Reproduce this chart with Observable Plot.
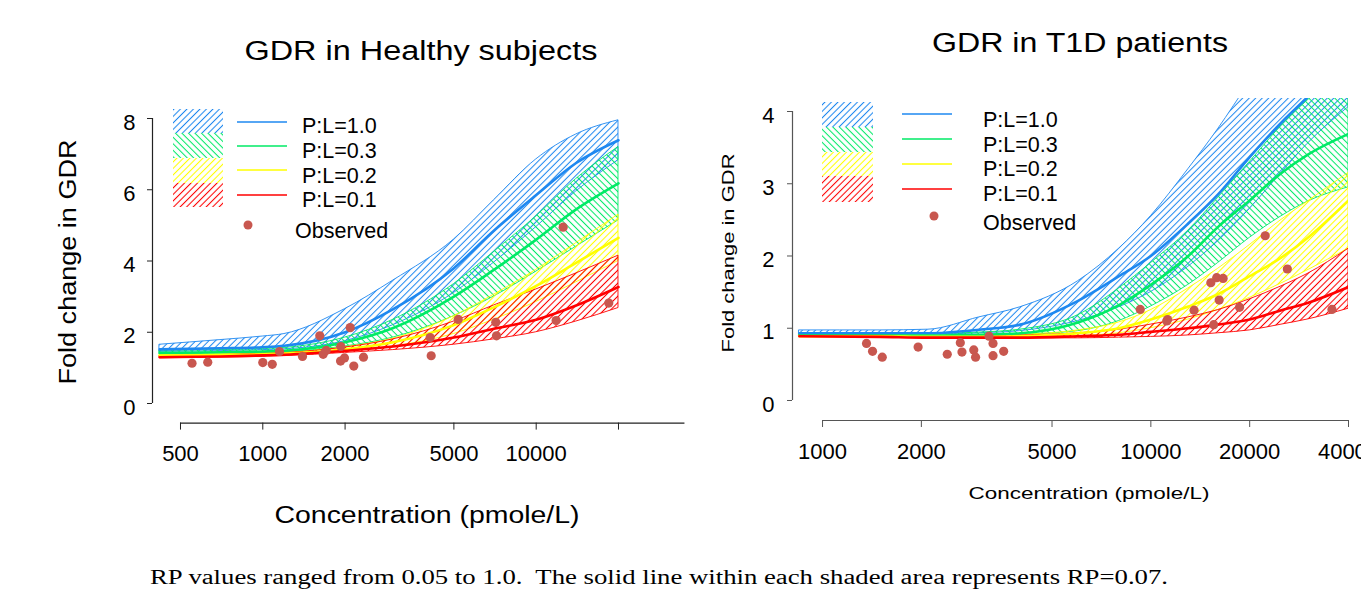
<!DOCTYPE html>
<html>
<head>
<meta charset="utf-8">
<script src="https://cdn.jsdelivr.net/npm/d3@7"></script>
<script src="https://cdn.jsdelivr.net/npm/@observablehq/plot@0.6"></script>
<style>
  html, body { margin: 0; padding: 0; background: #fff; }
  body { width: 1361px; height: 591px; overflow: hidden; position: relative; font-family: 'Liberation Sans', Arial, sans-serif; }
  #left, #right { position: absolute; top: 0; width: 700px; height: 480px; }
  #left { left: 0; }
  #right { left: 700px; }
  #left svg, #right svg { max-width: none !important; }
  #overlay { position: absolute; left: 0; top: 0; width: 1361px; height: 591px; pointer-events: none; }
</style>
</head>
<body>
<svg id="overlay" width="1361" height="591"></svg>
<div id="left"></div>
<div id="right"></div>
<script>
// ---------- labels ----------
const levels = ["P:L=1.0", "P:L=0.3", "P:L=0.2", "P:L=0.1"];
const colors = ["#1e88f0", "#00ea66", "#ffff00", "#ff0000"];
const dotColor = "#c8574f";
const titleLeft = "GDR in Healthy subjects";
const titleRight = "GDR in T1D patients";
const yLabel = "Fold change in GDR";
const xLabel = "Concentration (pmole/L)";
const obsLabel = "Observed";
const caption = "RP values ranged from 0.05 to 1.0.  The solid line within each shaded area represents RP=0.07.";
const FONT = "'Liberation Sans', Arial, sans-serif";
const SERIF = "'Liberation Serif', 'Times New Roman', serif";

// ---------- Healthy subjects ----------
const hConc    = [420, 700, 1000, 1200, 2000, 3000, 5000, 7000, 10000, 14000, 20000];
const hBlueHi  = [1.65, 1.78, 1.88, 1.95, 2.65, 3.45, 4.6, 5.7, 6.85, 7.55, 7.95];
const hBlueMid = [1.52, 1.55, 1.58, 1.62, 2.0, 2.65, 3.8, 4.85, 5.85, 6.75, 7.39];
const hBlueLo  = [1.45, 1.47, 1.5, 1.52, 1.75, 2.2, 3.1, 3.95, 4.95, 5.95, 6.83];
const hGreenHi  = [1.48, 1.5, 1.53, 1.56, 1.85, 2.35, 3.35, 4.25, 5.25, 6.3, 7.2];
const hGreenMid = [1.42, 1.44, 1.46, 1.48, 1.72, 2.12, 3.0, 3.75, 4.6, 5.45, 6.18];
const hGreenLo  = [1.38, 1.4, 1.42, 1.44, 1.6, 1.85, 2.45, 3.0, 3.7, 4.4, 5.14];
const hYellowHi  = [1.36, 1.38, 1.4, 1.42, 1.58, 1.82, 2.45, 3.05, 3.75, 4.5, 5.3];
const hYellowMid = [1.34, 1.36, 1.38, 1.4, 1.52, 1.72, 2.2, 2.7, 3.3, 3.95, 4.65];
const hYellowLo  = [1.32, 1.34, 1.36, 1.37, 1.47, 1.6, 1.95, 2.35, 2.85, 3.4, 4.0];
const hRedHi  = [1.33, 1.36, 1.4, 1.42, 1.57, 1.8, 2.3, 2.75, 3.2, 3.65, 4.15];
const hRedMid = [1.3, 1.32, 1.35, 1.37, 1.48, 1.6, 1.85, 2.1, 2.35, 2.75, 3.27];
const hRedLo  = [1.27, 1.29, 1.31, 1.33, 1.42, 1.5, 1.65, 1.8, 2.0, 2.3, 2.68];
const hObsConc = [551, 629, 1000, 1083, 1151, 1397, 1616, 1663, 1705, 1929, 1925, 1990, 2088, 2152, 2335, 4094, 4130, 5185, 7115, 7158, 11830, 12550, 18430];
const hObsGDR  = [1.13, 1.16, 1.15, 1.10, 1.46, 1.32, 1.90, 1.38, 1.49, 1.60, 1.19, 1.28, 2.13, 1.05, 1.30, 1.85, 1.34, 2.36, 2.28, 1.90, 2.33, 4.95, 2.82];
const hXTicks = [500, 1000, 2000, 5000, 10000, 20000];
const hXTickText = ["500", "1000", "2000", "5000", "10000", ""];
const hYTicks = [0, 2, 4, 6, 8];

// ---------- T1D patients ----------
const tConc    = [850, 1500, 2100, 3000, 4000, 6000, 8000, 10000, 13000, 16000, 20000, 25000, 30000, 40000];
const tBlueHi  = [0.97, 0.97, 0.98, 1.15, 1.29, 1.65, 2.1, 2.55, 3.2, 3.75, 4.4, 5.0, 5.5, 6.2];
const tBlueMid = [0.93, 0.93, 0.93, 0.98, 1.05, 1.38, 1.72, 2.0, 2.45, 2.85, 3.37, 3.85, 4.2, 4.8];
const tBlueLo  = [0.91, 0.91, 0.91, 0.93, 0.96, 1.1, 1.29, 1.5, 1.85, 2.2, 2.65, 3.15, 3.55, 4.06];
const tGreenHi  = [0.92, 0.92, 0.92, 0.94, 0.98, 1.18, 1.55, 1.9, 2.35, 2.8, 3.3, 3.8, 4.15, 4.6];
const tGreenMid = [0.9, 0.9, 0.9, 0.91, 0.93, 1.08, 1.32, 1.6, 2.0, 2.4, 2.77, 3.15, 3.4, 3.69];
const tGreenLo  = [0.89, 0.89, 0.89, 0.9, 0.91, 0.96, 1.1, 1.3, 1.6, 1.9, 2.25, 2.55, 2.75, 2.95];
const tYellowHi  = [0.9, 0.9, 0.9, 0.9, 0.91, 0.97, 1.08, 1.25, 1.55, 1.82, 2.15, 2.5, 2.75, 3.15];
const tYellowMid = [0.89, 0.89, 0.88, 0.88, 0.89, 0.93, 1.0, 1.12, 1.3, 1.47, 1.72, 1.98, 2.25, 2.77];
const tYellowLo  = [0.88, 0.88, 0.87, 0.87, 0.87, 0.89, 0.93, 1.0, 1.12, 1.25, 1.42, 1.62, 1.8, 2.1];
const tRedHi  = [0.9, 0.9, 0.89, 0.89, 0.9, 0.93, 0.98, 1.05, 1.15, 1.25, 1.4, 1.58, 1.75, 2.1];
const tRedMid = [0.89, 0.88, 0.87, 0.87, 0.87, 0.89, 0.91, 0.95, 1.0, 1.05, 1.12, 1.25, 1.35, 1.57];
const tRedLo  = [0.88, 0.87, 0.86, 0.86, 0.86, 0.86, 0.87, 0.88, 0.9, 0.93, 0.97, 1.05, 1.12, 1.27];
const tObsConc = [1361, 1420, 1520, 1955, 2398, 2628, 2659, 2888, 2925, 3214, 3306, 3306, 3562, 9283, 11180, 11250, 13540, 15230, 15540, 15870, 16150, 16600, 18630, 22300, 26050, 35620];
const tObsGDR  = [0.79, 0.68, 0.60, 0.74, 0.64, 0.80, 0.67, 0.70, 0.60, 0.89, 0.79, 0.62, 0.68, 1.26, 1.10, 1.12, 1.25, 1.63, 1.05, 1.70, 1.39, 1.69, 1.29, 2.28, 1.82, 1.26];
const tXTicks = [1000, 2000, 5000, 10000, 20000, 40000];
const tXTickText = ["1000", "2000", "5000", "10000", "20000", "40000"];
const tYTicks = [0, 1, 2, 3, 4];

// ---------- helpers ----------
function rows(conc, lo, mid, hi) {
  return conc.map((c, i) => ({conc: c, lo: lo[i], mid: mid[i], hi: hi[i]}));
}
function obsRows(conc, v) { return conc.map((c, i) => ({conc: c, v: v[i]})); }

const hBands = [
  rows(hConc, hBlueLo, hBlueMid, hBlueHi),
  rows(hConc, hGreenLo, hGreenMid, hGreenHi),
  rows(hConc, hYellowLo, hYellowMid, hYellowHi),
  rows(hConc, hRedLo, hRedMid, hRedHi)
];
const tBands = [
  rows(tConc, tBlueLo, tBlueMid, tBlueHi),
  rows(tConc, tGreenLo, tGreenMid, tGreenHi),
  rows(tConc, tYellowLo, tYellowMid, tYellowHi),
  rows(tConc, tRedLo, tRedMid, tRedHi)
];

// ---------- hatch patterns (shared) ----------
const overlay = d3.select("#overlay");
const defs = overlay.append("defs");
const hatchAngles = [45, -45, 45, 45];
colors.forEach((c, k) => {
  const p = defs.append("pattern")
    .attr("id", "hatch" + k)
    .attr("patternUnits", "userSpaceOnUse")
    .attr("width", 4.6).attr("height", 10)
    .attr("patternTransform", `rotate(${hatchAngles[k]})`);
  p.append("line").attr("x1", 2.3).attr("x2", 2.3).attr("y1", 0).attr("y2", 10)
    .attr("stroke", c).attr("stroke-width", 1.05);
});

function panel({bands, obs, xDomain, yDomain, width, height, marginLeft, marginRight, marginTop, marginBottom,
                yAxisAt, xAxisFrom, xAxisTo, yTop, xTicks, xTickText, yTicks, yTickPad, xTickPad, axisColor}) {
  const marks = [];
  bands.forEach((b, k) => marks.push(Plot.areaY(b, {
    x: "conc", y1: "lo", y2: "hi", fill: `url(#hatch${k})`, stroke: colors[k], strokeWidth: 0.9,
    curve: "monotone-x", clip: true
  })));
  bands.forEach((b, k) => marks.push(Plot.line(b, {
    x: "conc", y: "mid", stroke: colors[k], strokeWidth: 2.6, curve: "monotone-x", clip: true
  })));
  marks.push(Plot.dot(obs, {x: "conc", y: "v", r: 4.6, fill: dotColor, stroke: "none"}));
  marks.push(Plot.ruleX([yAxisAt], {y1: 0, y2: yTop, stroke: axisColor, strokeWidth: 1.2}));
  marks.push(Plot.ruleY([yDomain[0]], {x1: xAxisFrom, x2: xAxisTo, stroke: axisColor, strokeWidth: 1.2}));
  // y ticks (marks only) and y tick labels (shifted slightly down, as in the reference)
  marks.push(Plot.axisY({ticks: yTicks, tickSize: 5, label: null, stroke: axisColor, tickFormat: () => ""}));
  marks.push(Plot.axisY({ticks: yTicks, tickSize: 0, tickPadding: 5 + yTickPad, fontSize: 22, label: null,
    fill: "#000", dy: 4, tickFormat: d => String(d)}));
  marks.push(Plot.axisX({ticks: xTicks, tickSize: 7, tickPadding: xTickPad, fontSize: 22, label: null,
    stroke: axisColor, fill: "#000", tickFormat: d => xTickText[xTicks.indexOf(d)]}));
  return Plot.plot({
    width, height, marginLeft, marginRight, marginTop, marginBottom,
    x: {type: "log", domain: xDomain},
    y: {domain: yDomain},
    style: {fontFamily: FONT, background: "transparent", overflow: "visible", color: "#000", maxWidth: "none"},
    marks
  });
}

// Left: 500 -> x=180, 273.4 px/decade; y: 0 -> 403, 35.625 px/unit
const left = panel({
  bands: hBands, obs: obsRows(hObsConc, hObsGDR),
  xDomain: [395, 39500], yDomain: [-0.55, 8.4],
  width: 700, height: 480, marginLeft: 152, marginRight: 1.2, marginTop: 103.75, marginBottom: 57.4,
  yAxisAt: 395, xAxisFrom: 500, xAxisTo: 35000, yTop: 8,
  xTicks: hXTicks, xTickText: hXTickText, yTicks: hYTicks, yTickPad: 12, xTickPad: 15, axisColor: "#222"
});
document.getElementById("left").appendChild(left);

// Right: 1000 -> x=822 (page), 328.3 px/decade; y: 0 -> 400, 72.25 px/unit
const right = panel({
  bands: tBands, obs: obsRows(tObsConc, tObsGDR),
  xDomain: [810, 40000], yDomain: [-0.277, 4.18],
  width: 700, height: 480, marginLeft: 92, marginRight: 52, marginTop: 98, marginBottom: 60,
  yAxisAt: 810, xAxisFrom: 1000, xAxisTo: 40000, yTop: 4,
  xTicks: tXTicks, xTickText: tXTickText, yTicks: tYTicks, yTickPad: 13, xTickPad: 16, axisColor: "#555"
});
document.getElementById("right").appendChild(right);

// ---------- overlay texts and legends ----------
function txt(s, x, y, size, len, opts = {}) {
  const t = overlay.append("text").attr("x", x).attr("y", y).attr("font-size", size)
    .style("font-family", opts.family || FONT)
    .attr("text-anchor", opts.anchor || "start").attr("fill", "#000")
    .style("white-space", "pre").text(s);
  if (len) t.attr("textLength", len).attr("lengthAdjust", "spacingAndGlyphs");
  if (opts.rotate) t.attr("transform", `rotate(-90 ${x} ${y})`);
  return t;
}
txt(titleLeft, 421, 60, 27, 353, {anchor: "middle"});
txt(titleRight, 1080, 52, 27, 296, {anchor: "middle"});
txt(yLabel, 76, 262, 23, 245, {anchor: "middle", rotate: true});
txt(xLabel, 427, 523, 23, 305, {anchor: "middle"});
txt(yLabel, 734, 253, 17, 199, {anchor: "middle", rotate: true});
txt(xLabel, 1089, 499, 17, 241, {anchor: "middle"});
txt(caption, 150, 584, 20, 1018, {family: SERIF});

function legend(sx, sw, tops, lx1, lx2, lineYs, tx, bases, dot, obsX, obsBase, size) {
  levels.forEach((lab, k) => {
    overlay.append("rect").attr("x", sx).attr("y", tops[k]).attr("width", sw).attr("height", tops[k + 1] - tops[k])
      .attr("fill", `url(#hatch${k})`);
    overlay.append("line").attr("x1", lx1).attr("x2", lx2).attr("y1", lineYs[k]).attr("y2", lineYs[k])
      .attr("stroke", colors[k]).attr("stroke-width", 1.3);
    txt(lab, tx, bases[k], size);
  });
  overlay.append("circle").attr("cx", dot[0]).attr("cy", dot[1]).attr("r", 4.5).attr("fill", dotColor);
  txt(obsLabel, obsX, obsBase, size);
}
legend(173, 50, [109, 133, 158, 183, 207], 237, 287, [122, 146, 170, 195], 302, [133, 158, 183, 207], [248, 225], 295, 238, 21.5);
legend(822, 51, [102, 127, 152, 176, 202], 902, 952, [114, 139, 164, 189], 983, [127, 152, 176, 201], [934, 216], 983, 230, 21.5);
</script>
</body>
</html>
